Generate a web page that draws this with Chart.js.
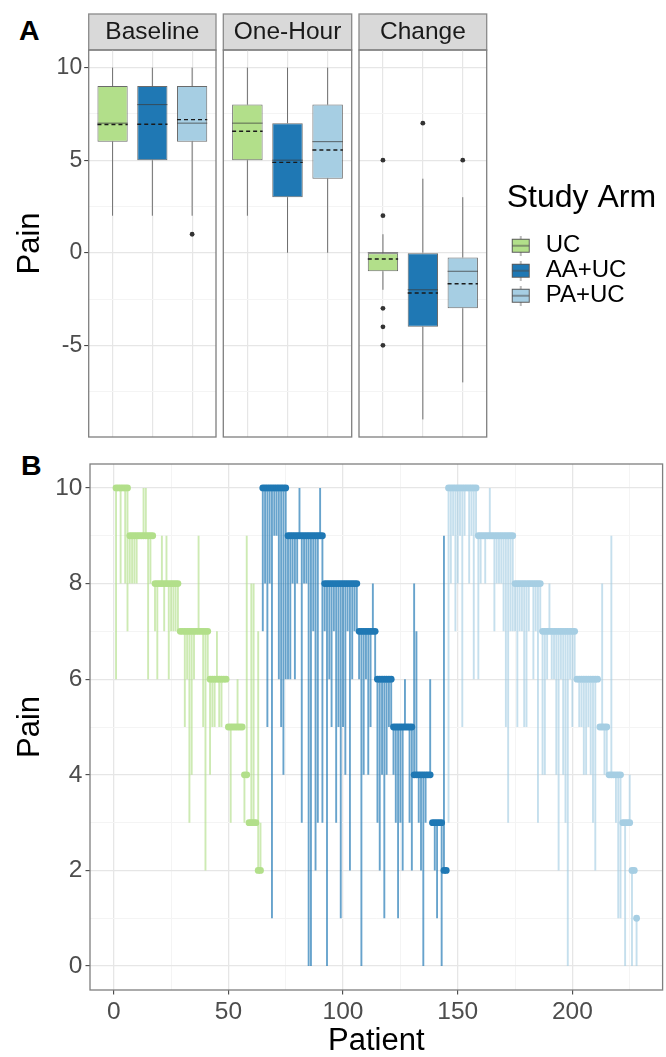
<!DOCTYPE html>
<html><head><meta charset="utf-8">
<script src="https://cdn.jsdelivr.net/npm/chart.js@4.4.0/dist/chart.umd.min.js"></script>
<style>
html,body{margin:0;padding:0;background:#fff;overflow:hidden;width:666px;height:1057px;position:relative;}
canvas{position:absolute;}
.tag{position:absolute;font:bold 28.5px 'Liberation Sans',Arial,sans-serif;color:#000;line-height:1;}
</style></head><body>
<div class="tag" style="left:19px;top:16px">A</div>
<div class="tag" style="left:21px;top:451px">B</div>
<canvas id="cBase" width="220" height="453" style="left:0px;top:0px"></canvas>
<canvas id="cOne" width="135" height="453" style="left:220px;top:0px"></canvas>
<canvas id="cChg" width="330" height="453" style="left:355px;top:0px"></canvas>
<canvas id="cB" width="666" height="617" style="left:0px;top:440px"></canvas>
<script>
const FONT = "'Liberation Sans', Arial, sans-serif";
const arms = ['UC', 'AA+UC', 'PA+UC'];
const armColors = ['#b2df8a', '#1f78b4', '#a6cee3'];
const armLineColors = ['rgba(178,223,138,0.65)', 'rgba(31,120,180,0.68)', 'rgba(166,206,227,0.65)'];
const facets = ['Baseline', 'One-Hour', 'Change'];

// Panel A box statistics: [facet][arm]
const boxQ1 = [[6, 5, 6], [5, 3, 4], [-1, -4, -3]];
const boxMedian = [[7, 8, 7], [7, 5, 6], [0, -2, -1]];
const boxQ3 = [[9, 9, 9], [8, 7, 8], [0, 0, -0.25]];
const whiskerLow = [[2, 2, 2], [2, 0, 0], [-2, -9, -7]];
const whiskerHigh = [[10, 10, 10], [10, 10, 10], [1, 4, 3]];
const boxMean = [[6.93, 6.94, 7.19], [6.56, 4.88, 5.55], [-0.34, -2.17, -1.67]];
const outliers = [[[], [], [1]], [[], [], []], [[5, 2, -3, -4, -5], [7], [5]]];
const painTicksA = [-7.5, -5, -2.5, 0, 2.5, 5, 7.5, 10];
const painLabelsA = [-5, 0, 5, 10];

// Panel B per patient
const painTicksB = [0, 1, 2, 3, 4, 5, 6, 7, 8, 9, 10];
const painLabelsB = [0, 2, 4, 6, 8, 10];
const patientTicks = [0, 25, 50, 75, 100, 125, 150, 175, 200, 225];
const patientLabels = [0, 50, 100, 150, 200];
const armStart = [1, 65, 146];

const ucBaseline = [10,10,10,10,10,10, 9,9,9,9,9,9,9,9,9,9,9, 8,8,8,8,8,8,8,8,8,8,8, 7,7,7,7,7,7,7,7,7,7,7,7,7, 6,6,6,6,6,6,6,6, 5,5,5,5,5,5,5, 4,4, 3,3,3,3, 2,2];
const ucOneHour  = [6,10,8,10,8,7, 8,8,8,8,9,9,10,10,6,8,9, 7,6,8,9,7,9,6,7,7,7,7, 7,7,5,6,3,4,6,7,9,7,5,2,6, 4,5,5,7,5,5,6,6, 5,3,5,5,6,5,5, 3,9, 3,8,8,3, 7,3];
const aaBaseline = [10,10,10,10,10,10,10,10,10,10,10, 9,9,9,9,9,9,9,9,9,9,9,9,9,9,9,9, 8,8,8,8,8,8,8,8,8,8,8,8,8,8,8, 7,7,7,7,7,7,7,7, 6,6,6,6,6,6,6, 5,5,5,5,5,5,5,5,5, 4,4,4,4,4,4,4,4, 3,3,3,3,3, 2,2];
const aaOneHour  = [7,8,5,8,1,9,9,6,5,4,6, 6,6,8,6,8,10,3,8,8,0,0,7,2,3,10,3, 7,0,6,5,7,3,5,1,5,4,7,2,6,7,7, 6,0,4,6,4,5,8,6, 3,2,4,1,4,5,5, 4,3,1,3,2,6,5,3,2, 8,7,3,2,0,3,4,6, 3,2,1,3,0, 9,2];
const paBaseline = [10,10,10,10,10,10,10,10,10,10,10,10,10, 9,9,9,9,9,9,9,9,9,9,9,9,9,9,9,9, 8,8,8,8,8,8,8,8,8,8,8,8, 7,7,7,7,7,7,7,7,7,7,7,7,7,7,7, 6,6,6,6,6,6,6,6,6,6, 5,5,5,5, 4,4,4,4,4,4, 3,3,3,3, 2,2, 1];
const paOneHour  = [3,8,9,7,8,9,5,9,10,8,9,6,9, 6,8,9,8,9,10,9,7,8,8,8,7,5,3,7,7, 7,5,7,7,5,5,7,8,6,7,3,7, 4,4,6,8,6,6,4,2,6,4,3,0,6,5,6, 6,5,5,4,4,5,4,3,2,6, 5,8,4,4, 4,9,4,3,1,1, 3,0,3,4, 0,2, 0];
const baselines = [ucBaseline, aaBaseline, paBaseline];
const oneHours = [ucOneHour, aaOneHour, paOneHour];

const GRID_MAJOR = '#e6e6e6', GRID_MINOR = '#f4f4f4', TICK_TXT = '#4d4d4d', BORDER = '#7f7f7f';

const stripPlugin = {
  id: 'strip',
  beforeDraw(chart) {
    const t = chart.titleBlock;
    if (!t || !t.options.display) return;
    const ctx = chart.ctx;
    ctx.save();
    ctx.fillStyle = '#d9d9d9';
    ctx.fillRect(t.left, t.top, t.width, t.height);
    ctx.strokeStyle = '#8a8a8a';
    ctx.lineWidth = 1.3;
    ctx.strokeRect(t.left, t.top, t.width, t.height);
    ctx.restore();
  }
};
const borderPlugin = {
  id: 'panelBorder',
  afterDraw(chart) {
    const a = chart.chartArea, ctx = chart.ctx;
    ctx.save();
    ctx.strokeStyle = BORDER;
    ctx.lineWidth = 1.3;
    ctx.strokeRect(a.left, a.top, a.right - a.left, a.bottom - a.top);
    ctx.restore();
  }
};

function keyGlyph(color) {
  const c = document.createElement('canvas');
  c.width = 20; c.height = 20;
  const g = c.getContext('2d');
  g.strokeStyle = '#777'; g.lineWidth = 1;
  g.beginPath(); g.moveTo(10, 0); g.lineTo(10, 4); g.moveTo(10, 16); g.lineTo(10, 20); g.stroke();
  g.fillStyle = color; g.fillRect(1.5, 3.5, 17, 13);
  g.strokeStyle = '#5a5a5a'; g.strokeRect(1.5, 3.5, 17, 13);
  g.beginPath(); g.moveTo(1.5, 10); g.lineTo(18.5, 10); g.strokeStyle = '#4a4a4a'; g.stroke();
  return c;
}

function facetDatasets(f) {
  const pos = arms.map((a, k) => k + 1);
  const half = 0.38;
  const whisk = [], med = [], mean = [], outs = [];
  pos.forEach((x, k) => {
    whisk.push({x, y: whiskerLow[f][k]}, {x, y: boxQ1[f][k]}, {x, y: null},
               {x, y: boxQ3[f][k]}, {x, y: whiskerHigh[f][k]}, {x, y: null});
    med.push({x: x - half, y: boxMedian[f][k]}, {x: x + half, y: boxMedian[f][k]}, {x, y: null});
    mean.push({x: x - half, y: boxMean[f][k]}, {x: x + half, y: boxMean[f][k]}, {x, y: null});
    outliers[f][k].forEach(v => outs.push({x, y: v}));
  });
  return [
    {type: 'line', data: mean, borderColor: '#1a1a1a', borderWidth: 1.4, borderDash: [4, 3],
     pointRadius: 0, spanGaps: false, tension: 0, order: 0},
    {type: 'line', data: med, borderColor: 'rgba(60,60,60,0.75)', borderWidth: 1,
     pointRadius: 0, spanGaps: false, tension: 0, order: 1},
    {type: 'scatter', data: outs, pointRadius: 2.4, backgroundColor: '#333', borderWidth: 0, order: 2},
    {type: 'bar', data: pos.map((x, k) => ({x, y: [boxQ1[f][k], boxQ3[f][k]]})),
     backgroundColor: armColors, borderColor: 'rgba(70,70,70,0.8)', borderWidth: 1, borderSkipped: false,
     categoryPercentage: 0.8, barPercentage: 0.95, order: 3},
    {type: 'line', data: whisk, borderColor: '#707070', borderWidth: 1,
     pointRadius: 0, spanGaps: false, tension: 0, order: 4}
  ];
}

function makeFacet(f, id, yWidth, padRight, withLegend) {
  const isFirst = f === 0;
  const opts = {
    responsive: false, animation: false, devicePixelRatio: 1, events: [],
    layout: {padding: {top: 14, right: padRight, bottom: 0, left: 0}},
    plugins: {
      tooltip: {enabled: false},
      title: {display: true, text: facets[f], fullSize: false, color: '#1a1a1a',
              font: {family: FONT, size: 24.5, weight: 'normal'}, padding: {top: 3.3, bottom: 3.3}},
      legend: withLegend ? {
        display: true, position: 'right', align: 'center', fullSize: false, maxWidth: 230,
        title: {display: true, text: 'Study Arm', color: '#000', position: 'start',
                font: {family: FONT, size: 32}, padding: {top: 4, bottom: 12}},
        labels: {
          usePointStyle: true, pointStyleWidth: 26, padding: 1, color: '#000',
          font: {family: FONT, size: 24, lineHeight: 1},
          generateLabels: () => arms.map((a, k) => ({
            text: a, fillStyle: armColors[k], strokeStyle: armColors[k], lineWidth: 0,
            pointStyle: keyGlyph(armColors[k]), hidden: false, fontColor: '#000', index: k
          }))
        }
      } : {display: false}
    },
    scales: {
      x: {
        type: 'linear', min: 0.4, max: 3.6, offset: false,
        afterBuildTicks: s => { s.ticks = arms.map((a, k) => ({value: k + 1})); },
        ticks: {display: false},
        grid: {color: GRID_MAJOR, lineWidth: 1.2, drawTicks: false, offset: false},
        border: {display: false},
        afterFit: s => { s.height = 16; }
      },
      y: {
        type: 'linear', min: -9.95, max: 10.95,
        afterBuildTicks: s => { s.ticks = painTicksA.map(v => ({value: v})); },
        ticks: {display: isFirst, autoSkip: false, color: TICK_TXT, padding: 2,
                font: {family: FONT, size: 23},
                callback: v => painLabelsA.includes(v) ? String(v) : ''},
        grid: {
          color: c => (c.tick && painLabelsA.includes(c.tick.value)) ? GRID_MAJOR : GRID_MINOR,
          lineWidth: c => (c.tick && painLabelsA.includes(c.tick.value)) ? 1.2 : 1,
          drawTicks: isFirst, tickLength: 4.5, tickWidth: 1,
          tickColor: c => (c.tick && painLabelsA.includes(c.tick.value)) ? '#333' : 'rgba(0,0,0,0)'
        },
        border: {display: false},
        title: {display: isFirst, text: 'Pain', color: '#000', font: {family: FONT, size: 31},
                padding: {top: 12, bottom: 0}},
        afterFit: s => { s.width = yWidth; }
      }
    }
  };
  if (withLegend) {
    opts.scales.yr = {
      position: 'right', display: true,
      ticks: {display: false}, grid: {display: false, drawTicks: false}, border: {display: false},
      afterFit: s => { s.width = 20; }
    };
  }
  return new Chart(document.getElementById(id), {
    type: 'line',
    data: {datasets: facetDatasets(f)},
    options: opts,
    plugins: [stripPlugin, borderPlugin]
  });
}

makeFacet(0, 'cBase', 88.7, 4, false);
makeFacet(1, 'cOne', 3.3, 3.3, false);
const chg = makeFacet(2, 'cChg', 3.3, 0, true);
// make the legend box wide enough for its title so it is not clipped
const lg = chg.legend;
const baseFit = lg.fit.bind(lg);
lg.fit = function () { baseFit(); this.width = Math.max(this.width, 168); };
chg.update('none');
const targetRight = 486.7 - 355;
for (let it = 0; it < 4; it++) {
  const d = chg.chartArea.right - targetRight;
  if (Math.abs(d) < 0.05) break;
  chg.options.layout.padding.right = Math.max(0, chg.options.layout.padding.right + d);
  chg.update('none');
}

// Panel B
const bDatasets = [];
arms.forEach((a, k) => {
  const pts = baselines[k].map((b, j) => ({x: armStart[k] + j, y: b}));
  bDatasets.push({type: 'scatter', label: a, data: pts, pointRadius: 3.4, pointHoverRadius: 3.4,
                  backgroundColor: armColors[k], borderWidth: 0, order: k});
});
arms.forEach((a, k) => {
  const seg = [];
  baselines[k].forEach((b, j) => {
    const x = armStart[k] + j;
    seg.push({x, y: b}, {x, y: oneHours[k][j]}, {x, y: null});
  });
  bDatasets.push({type: 'line', label: a + ' change', data: seg, borderColor: armLineColors[k],
                  borderWidth: 1.9, pointRadius: 0, spanGaps: false, tension: 0,
                  borderCapStyle: 'butt', order: 3 + k});
});

new Chart(document.getElementById('cB'), {
  type: 'line',
  data: {datasets: bDatasets},
  options: {
    responsive: false, animation: false, devicePixelRatio: 1, events: [],
    layout: {padding: {top: 24, right: 3.3, bottom: 0, left: 0}},
    plugins: {legend: {display: false}, tooltip: {enabled: false}, title: {display: false}},
    scales: {
      x: {
        type: 'linear', min: -10.35, max: 239.35,
        afterBuildTicks: s => { s.ticks = patientTicks.map(v => ({value: v})); },
        ticks: {autoSkip: false, maxRotation: 0, color: TICK_TXT, padding: 3,
                font: {family: FONT, size: 24.5},
                callback: v => patientLabels.includes(v) ? String(v) : ''},
        grid: {
          color: c => (c.tick && patientLabels.includes(c.tick.value)) ? GRID_MAJOR : GRID_MINOR,
          lineWidth: c => (c.tick && patientLabels.includes(c.tick.value)) ? 1.3 : 1,
          tickLength: 4.5, tickWidth: 1,
          tickColor: c => (c.tick && patientLabels.includes(c.tick.value)) ? '#333' : 'rgba(0,0,0,0)'
        },
        border: {display: false},
        title: {display: true, text: 'Patient', color: '#000',
                font: {family: FONT, size: 31, lineHeight: 1}, padding: {top: 0, bottom: 0}},
        afterFit: s => { s.height = 67; }
      },
      y: {
        type: 'linear', min: -0.5, max: 10.5,
        afterBuildTicks: s => { s.ticks = painTicksB.map(v => ({value: v})); },
        ticks: {autoSkip: false, color: TICK_TXT, padding: 3, font: {family: FONT, size: 24.5},
                callback: v => painLabelsB.includes(v) ? String(v) : ''},
        grid: {
          color: c => (c.tick && painLabelsB.includes(c.tick.value)) ? GRID_MAJOR : GRID_MINOR,
          lineWidth: c => (c.tick && painLabelsB.includes(c.tick.value)) ? 1.3 : 1,
          tickLength: 4.5, tickWidth: 1,
          tickColor: c => (c.tick && painLabelsB.includes(c.tick.value)) ? '#333' : 'rgba(0,0,0,0)'
        },
        border: {display: false},
        title: {display: true, text: 'Pain', color: '#000', font: {family: FONT, size: 31},
                padding: {top: 12, bottom: 0}},
        afterFit: s => { s.width = 90; }
      }
    }
  },
  plugins: [borderPlugin]
});
</script>
</body></html>
